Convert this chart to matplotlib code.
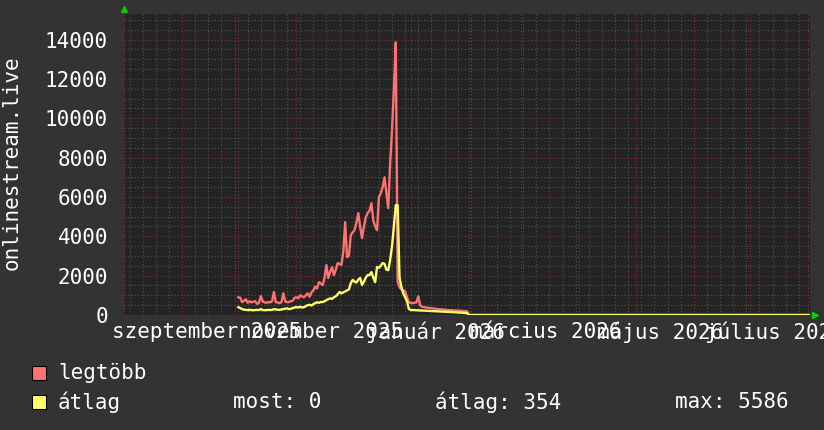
import datetime as dt
import numpy as np
import matplotlib
matplotlib.use('Agg')
import matplotlib.pyplot as plt
import matplotlib.dates as mdates
from matplotlib.patches import Rectangle

# time range of the graph
range_start = dt.datetime(2025, 8, 1)
range_end = dt.datetime(2026, 8, 2)

# daily values from 1 October 2025
data_start = dt.datetime(2025, 10, 1)
legtobb = [900, 880, 650, 720, 800, 620, 700, 640, 680, 700,
           560, 620, 960, 700, 640, 620, 660, 640, 700, 1170,
           650, 640, 600, 650, 1100, 700, 650, 660, 700, 720,
           880, 900, 850, 1000, 950, 900, 1000, 1100, 930, 1150,
           1250, 1440, 1350, 1670, 1600, 1520, 1900, 2540, 1880, 2200,
           2440, 2030, 2300, 2640, 2600, 2540, 3200, 4720, 2940, 3000,
           4060, 4200, 4310, 4700, 5180, 4470, 3910, 4500, 4970, 5180,
           5300, 5680, 4820, 4500, 4310, 5990, 6190, 6500, 7000, 6200,
           5430, 7710, 9400, 11500, 13860, 1700, 1400, 1300, 1250, 1200,
           900, 650, 620, 600, 620, 640, 950, 500, 420, 400,
           380, 370, 360, 350, 330, 320, 300, 300, 290, 280,
           270, 260, 250, 250, 240, 230, 230, 220, 220, 210,
           200, 200, 190]
atlag = [400, 350, 300, 270, 260, 250, 260, 250, 240, 250,
         260, 250, 300, 250, 240, 250, 260, 250, 260, 300,
         280, 270, 260, 280, 300, 320, 340, 300, 320, 350,
         380, 400, 380, 420, 380, 400, 450, 500, 520, 480,
         550, 600, 650, 620, 660, 660, 700, 760, 800, 850,
         820, 900, 950, 1050, 1170, 1100, 1150, 1200, 1250, 1300,
         1620, 1780, 1700, 1650, 1800, 1880, 1520, 1700, 1900, 2030,
         2030, 2180, 1900, 1670, 2440, 2400, 2500, 2640, 2600, 2300,
         2280, 2800, 3500, 4500, 5586, 5586, 1900, 1420, 1100, 900,
         700, 300, 250, 250, 250, 240, 240, 230, 230, 220,
         220, 210, 210, 200, 200, 190, 190, 180, 180, 170,
         170, 160, 160, 150, 150, 140, 140, 130, 120, 120,
         110, 100, 100]

# after the data ends everything is 0 up to "now"
zero_dates = [dt.datetime(2026, 2, 1), range_end]
zero_values = [0, 0]

month_labels = ['szeptember 2025', 'november 2025', 'január 2026',
                'március 2026', 'május 2026', 'július 2026']
label_dates = [dt.datetime(2025, 9, 14), dt.datetime(2025, 11, 14),
               dt.datetime(2026, 1, 14), dt.datetime(2026, 3, 14),
               dt.datetime(2026, 5, 14), dt.datetime(2026, 7, 14)]

BG = '#333333'
PLOT_BG = '#232323'
RED = '#ff7272'
YELLOW = '#ffff6a'
FONT = 'DejaVu Sans Mono'
plt.rcParams['font.family'] = FONT

dates = [data_start + dt.timedelta(days=i) for i in range(len(legtobb))]
red_x = dates + zero_dates
red_y = legtobb + zero_values
yel_x = dates + zero_dates
yel_y = atlag + zero_values

W, H = 824, 430
fig = plt.figure(figsize=(W / 100, H / 100), dpi=100, facecolor=BG)
ax = fig.add_axes([124 / W, 1 - 315 / H, 686 / W, 301 / H], facecolor=PLOT_BG)

ax.plot(red_x, red_y, color=RED, lw=1.7, zorder=3)
ax.plot(yel_x, yel_y, color=YELLOW, lw=1.7, zorder=4)

ax.set_xlim(range_start, range_end)
ax.set_ylim(0, 15300)

# grid like rrdtool
ax.set_yticks(range(0, 14001, 2000))
ax.set_yticks(range(0, 15001, 500), minor=True)
ax.xaxis.set_major_locator(mdates.MonthLocator())
ax.xaxis.set_minor_locator(mdates.WeekdayLocator(byweekday=mdates.MO))
ax.xaxis.set_major_formatter(matplotlib.ticker.NullFormatter())
ax.grid(which='minor', color='#555555', linestyle=(0, (1, 2)), lw=0.8)
ax.grid(which='major', color='#883434', linestyle=(0, (1, 2)), lw=0.8)
ax.set_axisbelow(True)

ax.tick_params(which='both', length=0, colors='white', labelsize=15, pad=11.5)
for s in ax.spines.values():
    s.set_visible(False)

for d, lab in zip(label_dates, month_labels):
    ax.text(mdates.date2num(d), -0.022, lab, transform=ax.get_xaxis_transform(),
            ha='center', va='top', color='white', fontsize=15, clip_on=False)

fig.text(12 / W, 1 - 163 / H, 'onlinestream.live', rotation=90,
         ha='center', va='center', color='white', fontsize=15)

# green arrows on the axes
ax.plot([124 / W], [1 - 9 / H], marker='^', ms=5, color='#00d000',
        transform=fig.transFigure, clip_on=False)
ax.plot([815 / W], [1 - 315 / H], marker='>', ms=5, color='#00d000',
        transform=fig.transFigure, clip_on=False)

# legend
for y, col, name in [(373, RED, 'legtöbb'), (402, YELLOW, 'átlag')]:
    fig.patches.append(Rectangle((32 / W, 1 - (y + 7) / H), 14 / W, 14 / H,
                                 facecolor=col, edgecolor='black', lw=0.8,
                                 transform=fig.transFigure))
    fig.text(58 / W, 1 - y / H, name, ha='left', va='center',
             color='white', fontsize=15)
fig.text(233 / W, 1 - 402 / H, 'most: 0', ha='left', va='center', color='white', fontsize=15)
fig.text(435 / W, 1 - 402 / H, 'átlag: 354', ha='left', va='center', color='white', fontsize=15)
fig.text(675 / W, 1 - 402 / H, 'max: 5586', ha='left', va='center', color='white', fontsize=15)

fig.savefig('out.png', dpi=100, facecolor=BG)
